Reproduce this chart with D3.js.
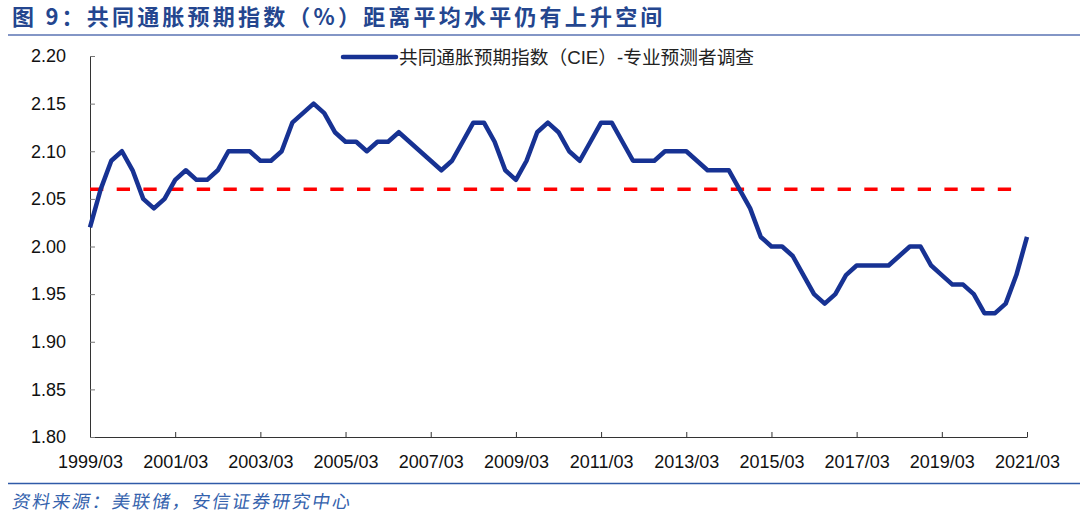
<!DOCTYPE html>
<html>
<head>
<meta charset="utf-8">
<script src="https://cdn.jsdelivr.net/npm/d3@7"></script>
<style>
	body { margin: 0; background: #fff; }
	svg { display: block; font-family: "Liberation Sans", Arial, "Noto Sans CJK SC", sans-serif; }
</style>
</head>
<body>
<svg id="chart" width="1080" height="518"></svg>
<script>
var titleText = "图 9：共同通胀预期指数（%）距离平均水平仍有上升空间";
var sourceText = "资料来源：美联储，安信证券研究中心";
var seriesName = "共同通胀预期指数（CIE）-专业预测者调查";

// quarterly, 1999/03 .. 2021/03
var startYear = 1999;
var cieValues = [
	2.02, 2.06, 2.09, 2.10, 2.08, 2.05, 2.04, 2.05, 2.07, 2.08,
	2.07, 2.07, 2.08, 2.10, 2.10, 2.10, 2.09, 2.09, 2.10, 2.13,
	2.14, 2.15, 2.14, 2.12, 2.11, 2.11, 2.10, 2.11, 2.11, 2.12,
	2.11, 2.10, 2.09, 2.08, 2.09, 2.11, 2.13, 2.13, 2.11, 2.08,
	2.07, 2.09, 2.12, 2.13, 2.12, 2.10, 2.09, 2.11, 2.13, 2.13,
	2.11, 2.09, 2.09, 2.09, 2.10, 2.10, 2.10, 2.09, 2.08, 2.08,
	2.08, 2.06, 2.04, 2.01, 2.00, 2.00, 1.99, 1.97, 1.95, 1.94,
	1.95, 1.97, 1.98, 1.98, 1.98, 1.98, 1.99, 2.00, 2.00, 1.98,
	1.97, 1.96, 1.96, 1.95, 1.93, 1.93, 1.94, 1.97, 2.01
];
var meanValue = 2.06;
var yTicks = [1.80, 1.85, 1.90, 1.95, 2.00, 2.05, 2.10, 2.15, 2.20];
var xTickLabels = ["1999/03", "2001/03", "2003/03", "2005/03", "2007/03", "2009/03",
	"2011/03", "2013/03", "2015/03", "2017/03", "2019/03", "2021/03"];

var margin = {top: 56, right: 53, bottom: 81, left: 90};

var svg = d3.select("#chart");
var width = 1080 - margin.left - margin.right;
var height = 518 - margin.top - margin.bottom;

// title + rules
svg.append("text")
	.attr("x", 12)
	.attr("y", 25)
	.attr("fill", "#24468f")
	.attr("font-size", 22)
	.attr("font-weight", "bold")
	.attr("letter-spacing", 3.2)
	.attr("font-family", "'Noto Sans CJK SC', sans-serif")
	.text(titleText);

svg.append("line")
	.attr("x1", 8).attr("x2", 1080)
	.attr("y1", 35).attr("y2", 35)
	.attr("stroke", "#8396c6")
	.attr("stroke-width", 2);

svg.append("line")
	.attr("x1", 8).attr("x2", 1080)
	.attr("y1", 483.5).attr("y2", 483.5)
	.attr("stroke", "#2f5aa8")
	.attr("stroke-width", 1.5);

svg.append("text")
	.attr("x", 12)
	.attr("y", 508)
	.attr("fill", "#3462ad")
	.attr("font-size", 18)
	.attr("letter-spacing", 2)
	.attr("font-family", "'Noto Sans CJK SC', sans-serif")
	.attr("transform", "skewX(-10) translate(89,0)")
	.text(sourceText);

var g = svg.append("g").attr("transform", "translate(" + margin.left + "," + margin.top + ")");

var x = d3.scaleLinear()
	.domain([0, cieValues.length - 1])
	.range([0, width]);

var y = d3.scaleLinear()
	.domain([1.80, 2.20])
	.range([height, 0]);

// axes
var xTickIdx = xTickLabels.map(function(d, i) { return i * 8; });

var xAxis = g.append("g")
	.attr("transform", "translate(0," + height + ")")
	.call(d3.axisBottom(x)
		.tickValues(xTickIdx)
		.tickSizeInner(-5)
		.tickSizeOuter(0)
		.tickPadding(18)
		.tickFormat(function(d, i) { return xTickLabels[i]; }));

xAxis.select(".domain").attr("stroke", "#333");
xAxis.selectAll(".tick line").attr("stroke", "#333");
xAxis.selectAll("text")
	.attr("font-size", 18)
	.attr("fill", "#111")
	.attr("font-family", "'Liberation Sans', Arial, sans-serif");

var yAxis = g.append("g")
	.call(d3.axisLeft(y)
		.tickValues(yTicks)
		.tickSizeInner(-5)
		.tickSizeOuter(0)
		.tickPadding(24)
		.tickFormat(d3.format(".2f")));

yAxis.select(".domain").attr("stroke", "#333");
yAxis.selectAll(".tick line").attr("stroke", "#777");
yAxis.selectAll("text")
	.attr("font-size", 18)
	.attr("fill", "#111")
	.attr("font-family", "'Liberation Sans', Arial, sans-serif");

// mean line
var meanLine = d3.line()
	.x(function(d, i) { return x(i); })
	.y(function(d) { return y(d); });

g.append("path")
	.datum(cieValues.slice(0, cieValues.length - 1).map(function() { return meanValue; }))
	.attr("fill", "none")
	.attr("stroke", "#ff0000")
	.attr("stroke-width", 3.5)
	.attr("stroke-dasharray", "13.3,13.4")
	.attr("d", meanLine);

// CIE series
var line = d3.line()
	.x(function(d, i) { return x(i); })
	.y(function(d) { return y(d); });

g.append("path")
	.datum(cieValues)
	.attr("fill", "none")
	.attr("stroke", "#173293")
	.attr("stroke-width", 4.5)
	.attr("stroke-linejoin", "round")
	.attr("d", line);

// legend
var legend = svg.append("g").attr("transform", "translate(343,57)");
legend.append("line")
	.attr("x1", 0).attr("x2", 53)
	.attr("y1", 0).attr("y2", 0)
	.attr("stroke", "#173293")
	.attr("stroke-width", 4.5)
	.attr("stroke-linecap", "round");
legend.append("text")
	.attr("x", 56)
	.attr("y", 0)
	.attr("dy", "0.36em")
	.attr("font-size", 18.7)
	.attr("fill", "#222")
	.attr("font-family", "'Liberation Sans', Arial, 'Noto Sans CJK SC', sans-serif")
	.text(seriesName);
</script>
</body>
</html>
